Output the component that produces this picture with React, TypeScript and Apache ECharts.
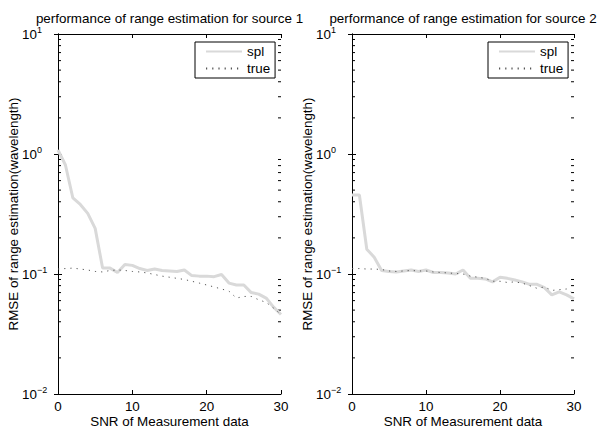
import React, { useEffect, useRef } from "react";
import * as echarts from "echarts";

const snr = [0, 1, 2, 3, 4, 5, 6, 7, 8, 9, 10, 11, 12, 13, 14, 15, 16, 17, 18, 19, 20, 21, 22, 23, 24, 25, 26, 27, 28, 29, 30];

const splSource1 = [1.08, 0.81, 0.43, 0.38, 0.32, 0.24, 0.112, 0.112, 0.103, 0.12, 0.118, 0.111, 0.107, 0.110, 0.107, 0.106, 0.105, 0.108, 0.097, 0.096, 0.096, 0.095, 0.099, 0.084, 0.081, 0.081, 0.070, 0.068, 0.063, 0.053, 0.046];
const trueSource1 = [0.110, 0.111, 0.112, 0.110, 0.108, 0.105, 0.104, 0.107, 0.108, 0.107, 0.105, 0.104, 0.102, 0.099, 0.096, 0.094, 0.092, 0.090, 0.087, 0.084, 0.081, 0.078, 0.075, 0.072, 0.063, 0.065, 0.065, 0.061, 0.058, 0.052, 0.046];
const splSource2 = [0.455, 0.455, 0.161, 0.138, 0.107, 0.105, 0.104, 0.106, 0.108, 0.105, 0.108, 0.103, 0.103, 0.102, 0.100, 0.108, 0.092, 0.092, 0.091, 0.086, 0.094, 0.092, 0.089, 0.086, 0.082, 0.082, 0.077, 0.067, 0.071, 0.067, 0.062];
const trueSource2 = [0.111, 0.111, 0.110, 0.110, 0.109, 0.106, 0.105, 0.106, 0.107, 0.106, 0.106, 0.104, 0.103, 0.102, 0.101, 0.100, 0.096, 0.094, 0.092, 0.087, 0.087, 0.085, 0.086, 0.084, 0.080, 0.076, 0.078, 0.073, 0.074, 0.075, 0.068];

const titles = ["performance of range estimation for source 1", "performance of range estimation for source 2"];
const xName = "SNR of Measurement data";
const yName = "RMSE of range estimation(wavelength)";
const seriesNames = ["spl", "true"];
const minorTickValues = [0.02, 0.03, 0.04, 0.05, 0.06, 0.07, 0.08, 0.09, 0.2, 0.3, 0.4, 0.5, 0.6, 0.7, 0.8, 0.9, 2, 3, 4, 5, 6, 7, 8, 9];

const FONT = "'Liberation Sans', Arial, Helvetica, sans-serif";
const FS = 13.4;

export default function App() {
  const ref = useRef<HTMLDivElement>(null);
  useEffect(() => {
    if (!ref.current) return;
    const chart = echarts.init(ref.current, null, { renderer: "svg" });
    const grids = [
      { left: 58, top: 34, width: 223, height: 360, outerBoundsMode: "none", containLabel: false },
      { left: 352, top: 34, width: 222, height: 360, outerBoundsMode: "none", containLabel: false },
    ];
    const axisLine = { show: true, lineStyle: { color: "#000", width: 1 } };
    const xAxes: any[] = [];
    const yAxes: any[] = [];
    grids.forEach((_, g) => {
      xAxes.push({
        type: "value", gridIndex: g, min: 0, max: 30, interval: 10, position: "bottom",
        axisLine, axisTick: { inside: true, length: 4, lineStyle: { color: "#000" } },
        axisLabel: { color: "#000", fontSize: FS, fontFamily: FONT, margin: 6 },
        splitLine: { show: false },
        name: xName, nameLocation: "middle", nameGap: 21, nameMoveOverlap: false,
        nameTextStyle: { color: "#000", fontSize: FS, fontFamily: FONT },
      });
      xAxes.push({
        type: "value", gridIndex: g, min: 0, max: 30, interval: 10, position: "top",
        axisLine, axisTick: { inside: true, length: 4, lineStyle: { color: "#000" } },
        axisLabel: { show: false }, splitLine: { show: false },
      });
      const fmt = (v: number) => {
        const e = Math.round(Math.log10(v));
        return `{b|10}{s|${e < 0 ? "\u2212" + -e : e}}`;
      };
      yAxes.push({
        type: "log", logBase: 10, gridIndex: g, min: 0.01, max: 10, position: "left",
        axisLine, axisTick: { inside: true, length: 4, lineStyle: { color: "#000" } },
        axisLabel: {
          formatter: fmt, align: "left", margin: 36,
          rich: {
            b: { fontSize: FS, fontFamily: FONT, color: "#000" },
            s: { fontSize: 9, fontFamily: FONT, color: "#000", padding: [0, 0, 8, 0] },
          },
        },
        splitLine: { show: false },
        name: yName, nameLocation: "middle", nameGap: 38, nameMoveOverlap: false,
        nameTextStyle: { color: "#000", fontSize: FS, fontFamily: FONT },
      });
      yAxes.push({
        type: "log", logBase: 10, gridIndex: g, min: 0.01, max: 10, position: "right",
        axisLine, axisTick: { inside: true, length: 4, lineStyle: { color: "#000" } },
        axisLabel: { show: false }, splitLine: { show: false },
      });
    });

    const seriesData = [
      [splSource1, trueSource1],
      [splSource2, trueSource2],
    ];
    const series: any[] = [];
    grids.forEach((_, g) => {
      series.push({
        type: "custom", xAxisIndex: g * 2, yAxisIndex: g * 2, silent: true, clip: false,
        data: minorTickValues.map((v) => [0, v]),
        encode: { x: 0, y: 1 },
        renderItem: (params: any, api: any) => {
          const v = api.value(1);
          const l = api.coord([0, v]);
          const r = api.coord([30, v]);
          return {
            type: "group",
            children: [
              { type: "line", shape: { x1: l[0], y1: l[1], x2: l[0] + 3, y2: l[1] }, style: { stroke: "#000", lineWidth: 1 } },
              { type: "line", shape: { x1: r[0] - 3, y1: r[1], x2: r[0], y2: r[1] }, style: { stroke: "#000", lineWidth: 1 } },
            ],
          };
        },
      });
      series.push({
        name: seriesNames[0], type: "line", xAxisIndex: g * 2, yAxisIndex: g * 2,
        data: snr.map((x, i) => [x, seriesData[g][0][i]]),
        symbol: "none", lineStyle: { color: "#d9d9d9", width: 3 }, itemStyle: { color: "#d9d9d9" },
      });
      series.push({
        name: seriesNames[1], type: "line", xAxisIndex: g * 2, yAxisIndex: g * 2,
        data: snr.map((x, i) => [x, seriesData[g][1][i]]),
        symbol: "none", lineStyle: { color: "#555", width: 1, type: [1.2, 5] }, itemStyle: { color: "#555" },
      });
    });

    const legendLefts = [195, 488];
    chart.setOption({
      animation: false,
      backgroundColor: "#fff",
      grid: grids,
      xAxis: xAxes,
      yAxis: yAxes,
      series,
      legend: legendLefts.map((l) => ({
        data: seriesNames, left: l, top: 42, orient: "vertical",
        itemWidth: 36, itemHeight: 14, itemGap: 4, padding: [3, 5, 3, 10],
        borderColor: "#000", borderWidth: 1, backgroundColor: "#fff",
        selectedMode: false,
        itemStyle: { opacity: 0 },
        textStyle: { color: "#000", fontSize: FS, fontFamily: FONT },
      })),
      graphic: grids.map((gr, g) => ({
        type: "text", x: gr.left + gr.width / 2, y: 18,
        style: { text: titles[g], fill: "#000", font: `${FS}px ${FONT}`, textAlign: "center", textVerticalAlign: "middle" },
      })),
    });
    return () => chart.dispose();
  }, []);
  return <div ref={ref} style={{ position: "fixed", left: 0, top: 0, width: 601, height: 428 }} />;
}
